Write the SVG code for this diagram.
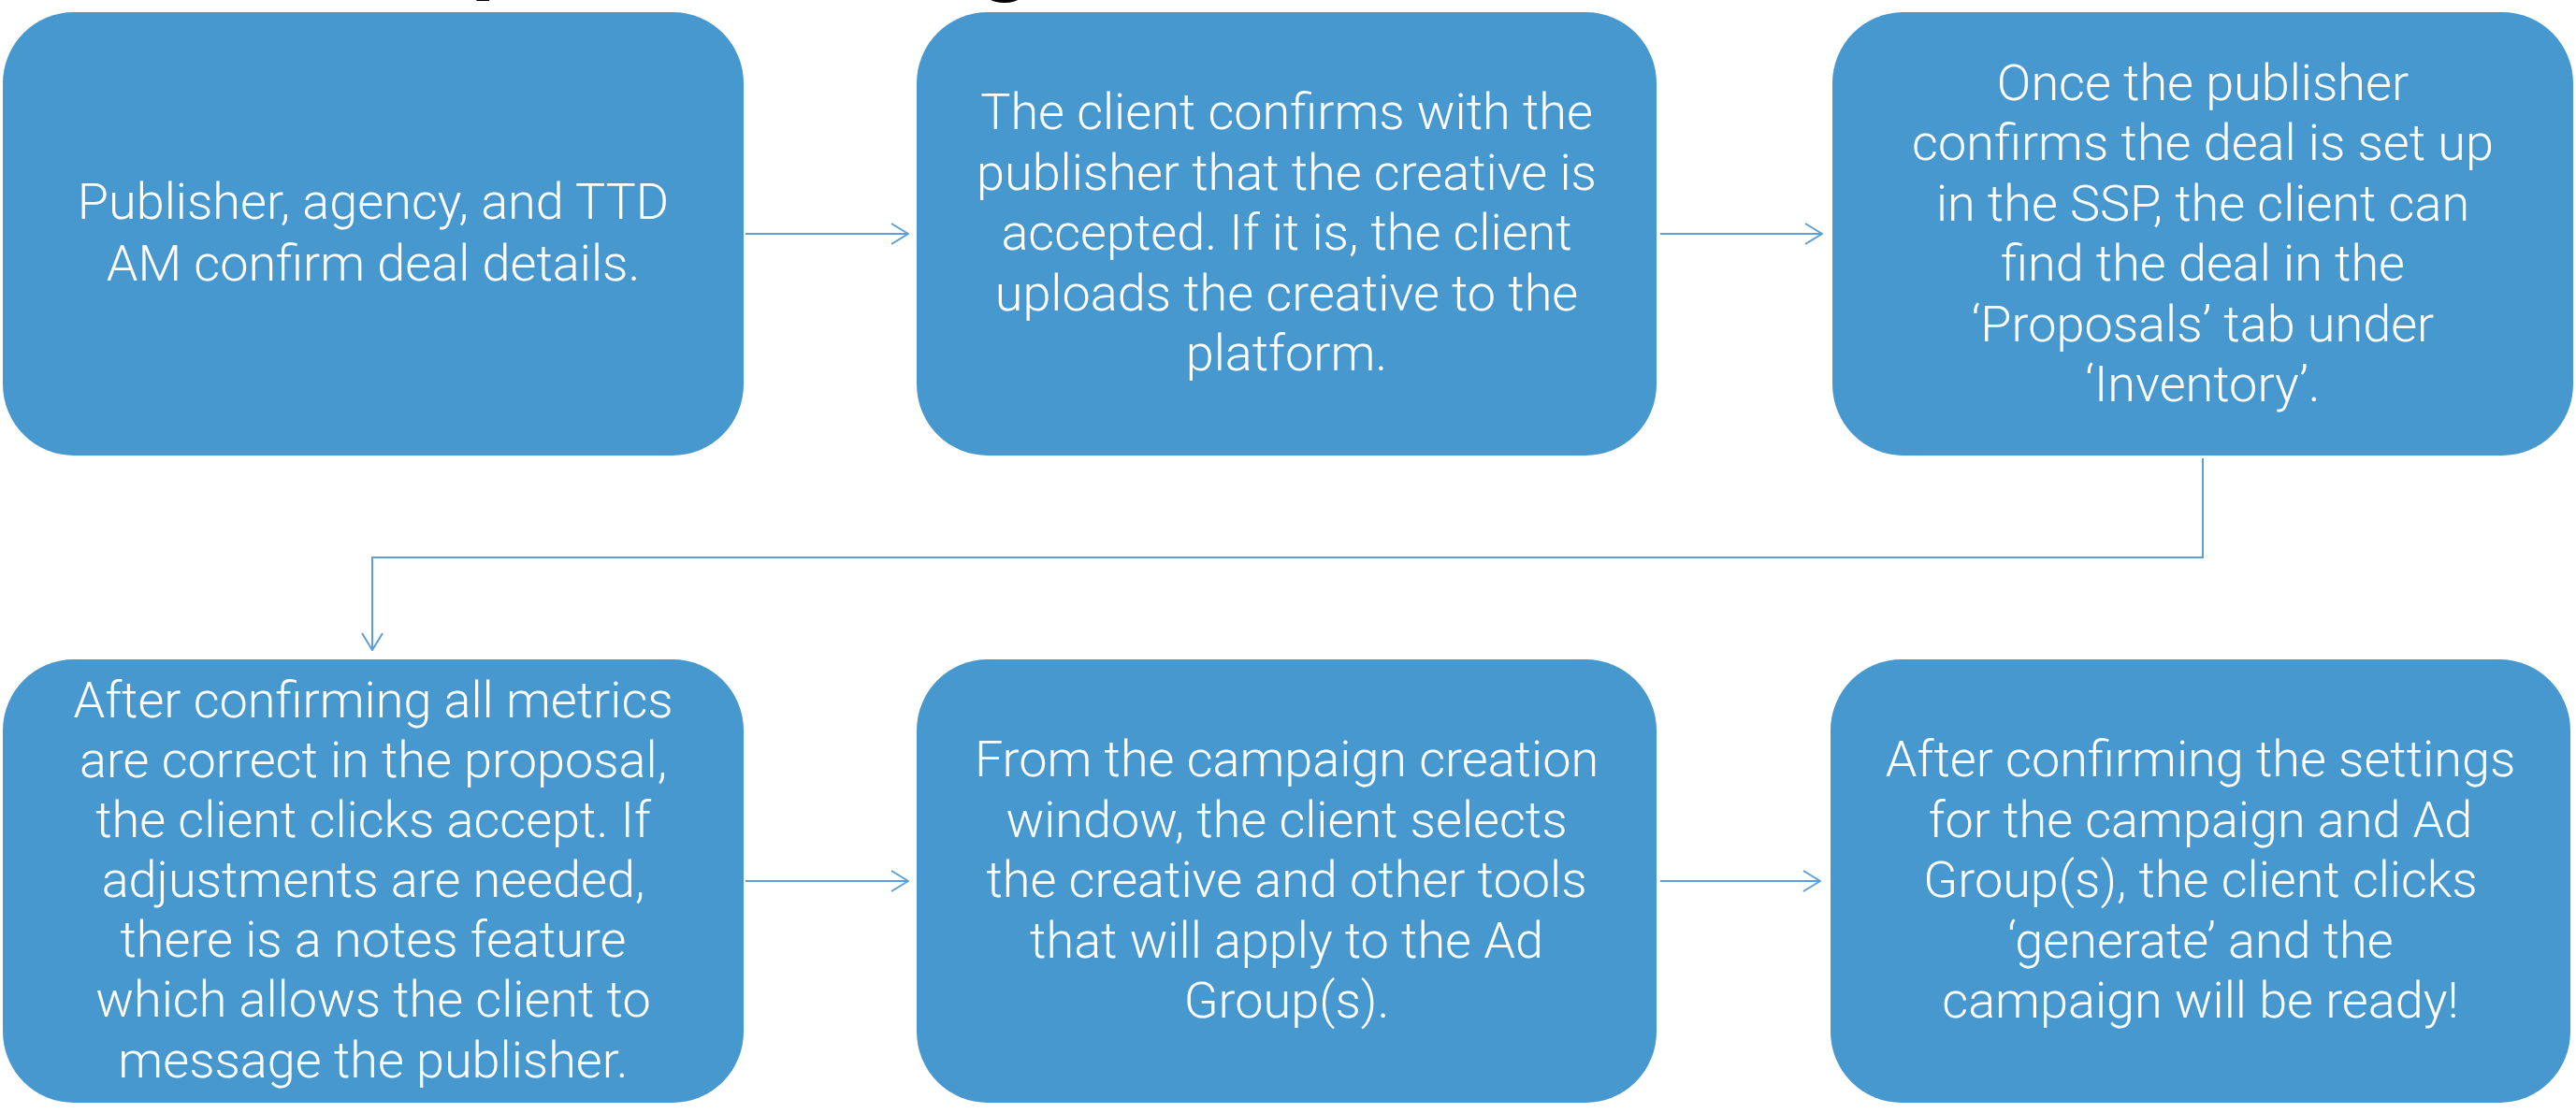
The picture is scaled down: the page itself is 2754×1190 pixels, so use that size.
<svg xmlns="http://www.w3.org/2000/svg" width="2754" height="1190" viewBox="0 0 2754 1190">
<style>
.box{fill:#4898D0;}
.t{font-family:Roboto,"Liberation Sans",sans-serif;font-weight:300;font-size:54px;fill:#FFFFFF;text-anchor:middle;}
.c{fill:none;stroke:#5B9FD9;stroke-width:2;}
.frag{font-family:"Liberation Sans",sans-serif;font-size:100px;font-weight:bold;fill:#000000;text-anchor:middle;}
</style>
<defs>
<marker id="arr" viewBox="0 0 20 24" refX="19" refY="12" markerWidth="20" markerHeight="24" markerUnits="userSpaceOnUse" orient="auto">
<path d="M1,1 L19,12 L1,23" fill="none" stroke="#5B9FD9" stroke-width="2"/>
</marker>
</defs>
<rect width="2754" height="1190" fill="#FFFFFF"/>
<g id="title-fragments">
<text class="frag" x="507" y="-20">(</text>
<text class="frag" x="1075" y="-18">g</text>
<text class="frag" x="2245" y="-21">)</text>
</g>
<g id="connectors">
<path class="c" d="M797,250 H971" marker-end="url(#arr)"/>
<path class="c" d="M1775,250 H1948" marker-end="url(#arr)"/>
<path class="c" d="M2355,490 V596 H398 V695" marker-end="url(#arr)"/>
<path class="c" d="M797,942 H971" marker-end="url(#arr)"/>
<path class="c" d="M1775,942 H1946" marker-end="url(#arr)"/>
</g>
<g id="node1">
<rect class="box" x="3" y="13" width="792" height="474" rx="76" ry="76"/>
<text class="t" x="399" y="234">Publisher, agency, and TTD</text>
<text class="t" x="399" y="300">AM confirm deal details.</text>
</g>
<g id="node2">
<rect class="box" x="980" y="13" width="791" height="474" rx="76" ry="76"/>
<text class="t" x="1375.5" y="138">The client confirms with the</text>
<text class="t" x="1375.5" y="203">publisher that the creative is</text>
<text class="t" x="1375.5" y="267">accepted. If it is, the client</text>
<text class="t" x="1375.5" y="332">uploads the creative to the</text>
<text class="t" x="1375.5" y="396">platform.</text>
</g>
<g id="node3">
<rect class="box" x="1959" y="13" width="792" height="474" rx="76" ry="76"/>
<text class="t" x="2355" y="107">Once the publisher</text>
<text class="t" x="2355" y="171">confirms the deal is set up</text>
<text class="t" x="2355" y="236">in the SSP, the client can</text>
<text class="t" x="2355" y="300">find the deal in the</text>
<text class="t" x="2355" y="365">‘Proposals’ tab under</text>
<text class="t" x="2355" y="429">‘Inventory’.</text>
</g>
<g id="node4">
<rect class="box" x="3" y="705" width="792" height="474" rx="76" ry="76"/>
<text class="t" x="399" y="767">After confirming all metrics</text>
<text class="t" x="399" y="831">are correct in the proposal,</text>
<text class="t" x="399" y="895">the client clicks accept. If</text>
<text class="t" x="399" y="959">adjustments are needed,</text>
<text class="t" x="399" y="1023">there is a notes feature</text>
<text class="t" x="399" y="1087">which allows the client to</text>
<text class="t" x="399" y="1152">message the publisher.</text>
</g>
<g id="node5">
<rect class="box" x="980" y="705" width="791" height="474" rx="76" ry="76"/>
<text class="t" x="1375.5" y="830">From the campaign creation</text>
<text class="t" x="1375.5" y="895">window, the client selects</text>
<text class="t" x="1375.5" y="959">the creative and other tools</text>
<text class="t" x="1375.5" y="1024">that will apply to the Ad</text>
<text class="t" x="1375.5" y="1088">Group(s).</text>
</g>
<g id="node6">
<rect class="box" x="1957" y="705" width="791" height="474" rx="76" ry="76"/>
<text class="t" x="2352.5" y="830">After confirming the settings</text>
<text class="t" x="2352.5" y="895">for the campaign and Ad</text>
<text class="t" x="2352.5" y="959">Group(s), the client clicks</text>
<text class="t" x="2352.5" y="1024">‘generate’ and the</text>
<text class="t" x="2352.5" y="1088">campaign will be ready!</text>
</g>
</svg>
